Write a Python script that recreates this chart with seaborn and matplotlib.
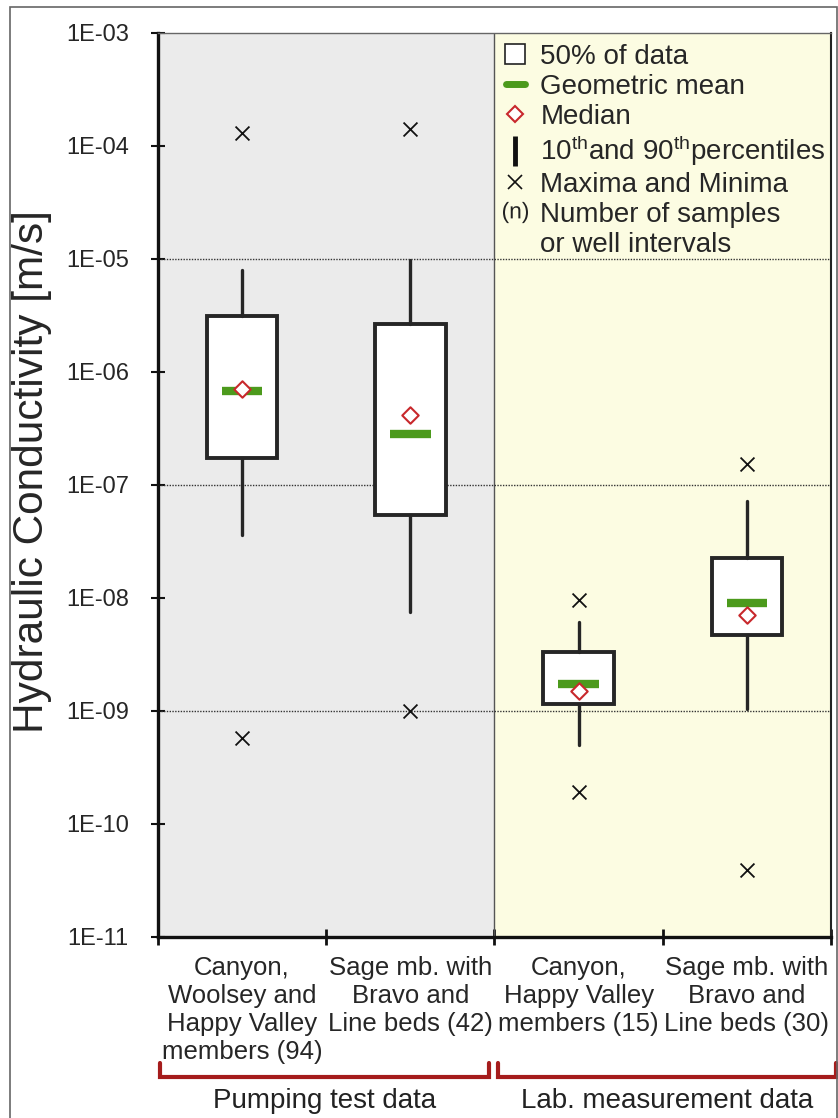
import numpy as np
import pandas as pd
import matplotlib
matplotlib.use("Agg")
import matplotlib.pyplot as plt
import matplotlib.transforms as mtransforms
from matplotlib.lines import Line2D
from matplotlib.patches import Rectangle
import seaborn as sns

# summary statistics (m/s)
groups = ["Canyon,\nWoolsey and\nHappy Valley\nmembers (94)",
          "Sage mb. with\nBravo and\nLine beds (42)",
          "Canyon,\nHappy Valley\nmembers (15)",
          "Sage mb. with\nBravo and\nLine beds (30)"]
q1 = [1.73e-7, 5.4e-8, 1.15e-9, 4.7e-9]
q3 = [3.1e-6, 2.65e-6, 3.3e-9, 2.25e-8]
p10 = [3.6e-8, 7.5e-9, 5.0e-10, 1.04e-9]
p90 = [8.0e-6, 9.8e-6, 6.1e-9, 7.2e-8]
geo_mean = [6.8e-7, 2.8e-7, 1.73e-9, 9.0e-9]
median = [7.0e-7, 4.2e-7, 1.5e-9, 7.1e-9]
maxima = [1.3e-4, 1.4e-4, 9.6e-9, 1.53e-7]
minima = [5.8e-10, 1.0e-9, 1.9e-10, 3.9e-11]
datasets = ["Pumping test data", "Lab. measurement data"]

sns.set_theme(style="white")
plt.rcParams["font.family"] = ["Liberation Sans", "DejaVu Sans"]
plt.rcParams["mathtext.fontset"] = "custom"
plt.rcParams["mathtext.rm"] = "Liberation Sans"
plt.rcParams["mathtext.it"] = "Liberation Sans:italic"

pos = np.arange(len(groups))
df = pd.DataFrame({"pos": pos, "q1": q1, "q3": q3, "p10": p10, "p90": p90,
                   "gmean": geo_mean, "median": median,
                   "max": maxima, "min": minima})

fig = plt.figure(figsize=(8.38, 11.18), dpi=100)
ax = fig.add_axes([0.1885, 0.1619, 0.8031, 0.8086])

# backgrounds
ax.axvspan(-0.5, 1.5, color="#EBEBEB", zorder=0, lw=0)
ax.axvspan(1.5, 3.5, color="#FCFCE2", zorder=0, lw=0)
ax.axvline(1.5, color="#555555", lw=1, zorder=1)
for g in [1e-5, 1e-7, 1e-9]:
    ax.axhline(g, color="#333333", lw=1, ls=(0, (1, 1)), zorder=1)

# boxes: quartiles + 10/90 percentile whiskers
stats = [dict(q1=r.q1, q3=r.q3, med=r.median, whislo=r.p10, whishi=r.p90, fliers=[])
         for r in df.itertuples()]
ax.bxp(stats, positions=pos, widths=0.42, showcaps=False, showfliers=False,
       patch_artist=True,
       boxprops=dict(facecolor="white", edgecolor="#262626", linewidth=2.8),
       whiskerprops=dict(color="#262626", linewidth=2.4),
       medianprops=dict(linewidth=0), zorder=3)

# geometric mean bars
ax.hlines(df["gmean"], pos - 0.12, pos + 0.12, color="#4C9A1C", lw=6, zorder=4)

# medians and extremes
sns.scatterplot(data=df, x="pos", y="median", marker="D", s=70, facecolor="white",
                edgecolor="#C8282C", linewidth=1.5, zorder=5, ax=ax)
ext = pd.concat([df[["pos", "max"]].rename(columns={"max": "v"}),
                 df[["pos", "min"]].rename(columns={"min": "v"})])
sns.scatterplot(data=ext, x="pos", y="v", marker="x", s=100, color="#111111",
                linewidth=1.3, zorder=5, ax=ax)

ax.set_yscale("log")
ax.set_ylim(1e-11, 1e-3)
ax.set_xlim(-0.5, 3.5)
ax.set_yticks([10.0 ** e for e in range(-11, -2)])
ax.set_yticklabels([f"1E-{-e:02d}" for e in range(-11, -2)])
ax.minorticks_off()
ax.tick_params(axis="y", which="major", direction="inout", length=10, width=1.5,
               labelsize=17, pad=16, left=True, color="#111111")

ax.set_xticks([-0.5, 0.5, 1.5, 2.5, 3.5])
ax.set_xticklabels([])
ax.set_xticks(pos, minor=True)
ax.set_xticklabels(groups, minor=True, fontsize=18.5, linespacing=1.2, va="top")
ax.tick_params(axis="x", which="major", direction="inout", length=12, width=2,
               bottom=True, color="#111111")
ax.tick_params(axis="x", which="minor", length=0, pad=14)
ax.set_xlabel("")

ax.set_ylabel("Hydraulic Conductivity [m/s]", fontsize=30.5)
ax.yaxis.set_label_coords(-0.158, 0.515)

for side in ["left", "bottom"]:
    ax.spines[side].set_linewidth(2.4)
    ax.spines[side].set_color("#111111")
ax.spines["top"].set_linewidth(1.0)
ax.spines["top"].set_color("#666666")
ax.spines["right"].set_linewidth(1.5)
ax.spines["right"].set_color("#222222")

# legend
handles = [
    Line2D([], [], ls="", marker="s", markersize=15, markerfacecolor="white",
           markeredgecolor="#222222", markeredgewidth=1.2),
    Line2D([], [], color="#4C9A1C", lw=5),
    Line2D([], [], ls="", marker="D", markersize=8, markerfacecolor="white",
           markeredgecolor="#C8282C", markeredgewidth=1.5),
    Line2D([], [], ls="", marker="|", markersize=22, markeredgecolor="#111111",
           markeredgewidth=3.5),
    Line2D([], [], ls="", marker="x", markersize=10, markeredgecolor="#111111",
           markeredgewidth=1.2),
    Line2D([], [], ls="", marker=r"$\mathrm{(n)}$", markersize=18,
           markeredgewidth=0, color="#222222"),
    Line2D([], [], ls="", marker=""),
]
labels = ["50% of data", "Geometric mean", "Median",
          r"10$^{\mathrm{th}}$and 90$^{\mathrm{th}}$percentiles",
          "Maxima and Minima", "Number of samples", "or well intervals"]
ax.legend(handles, labels, loc="upper left", bbox_to_anchor=(0.5, 1.0),
          frameon=False, fontsize=20, handlelength=0.7, handletextpad=0.55,
          labelspacing=0.14, borderaxespad=0, borderpad=0.4)

# dataset brackets below the axis
trans = mtransforms.blended_transform_factory(ax.transData, ax.transAxes)
spans = [(-0.49, 1.47), (1.52, 3.53)]
for (x0, x1), name in zip(spans, datasets):
    ax.plot([x0, x0, x1, x1], [-0.139, -0.155, -0.155, -0.139], color="#A51C1C",
            lw=3, transform=trans, clip_on=False, solid_joinstyle="miter")
    ax.text((x0 + x1) / 2, -0.181, name, transform=trans, ha="center", va="center",
            fontsize=20, color="#222222")

# outer frame
fig.patches.append(Rectangle((10 / 838, -0.02), 827 / 838, 1111 / 1118 + 0.02,
                             transform=fig.transFigure, fill=False,
                             edgecolor="#666666", lw=1.2))

fig.savefig("out.png", dpi=100)
